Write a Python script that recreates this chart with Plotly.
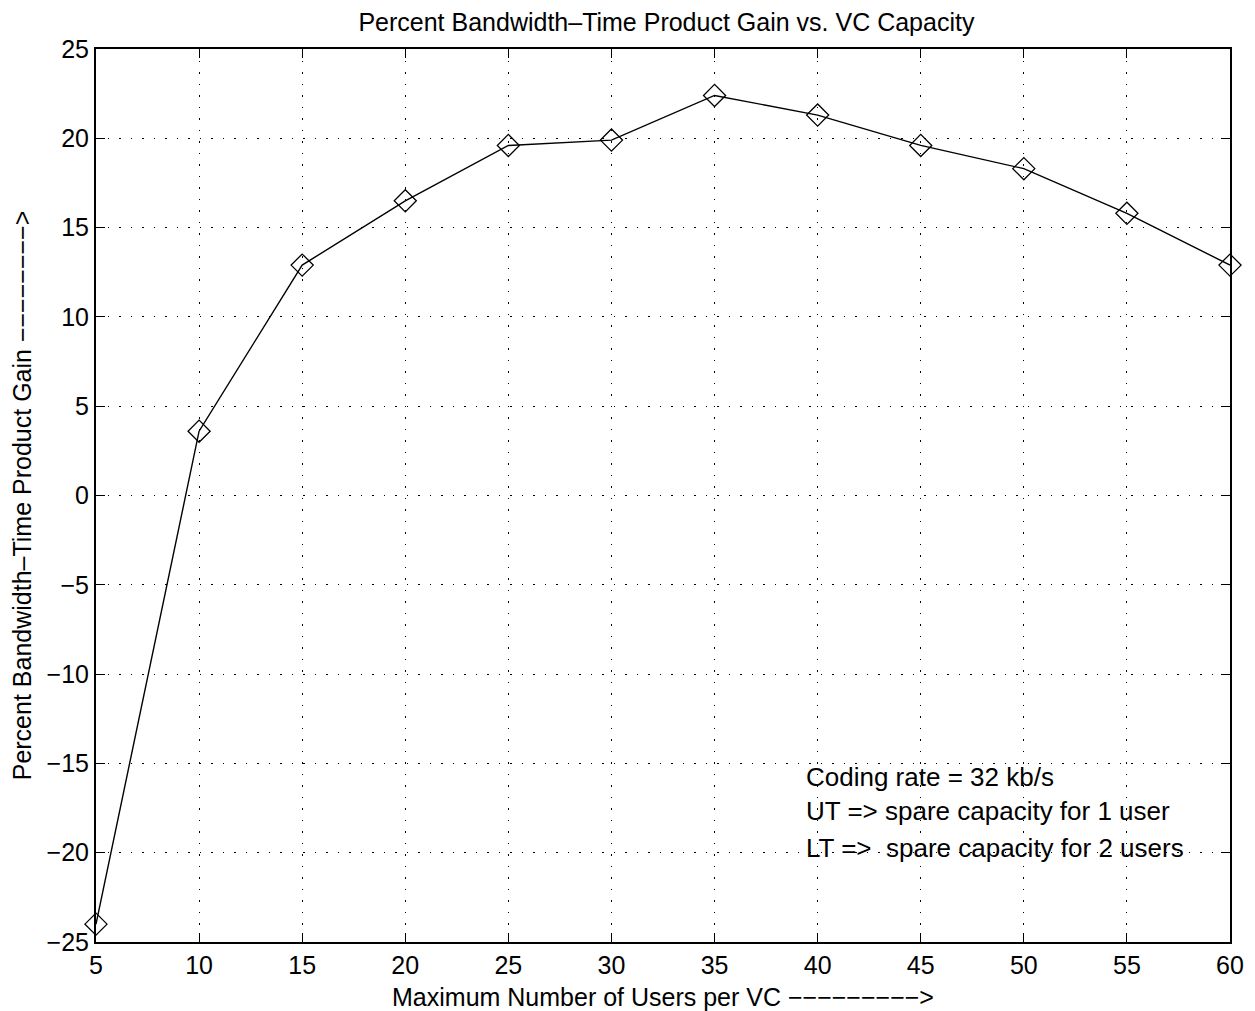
import plotly.graph_objects as go

users = [5, 10, 15, 20, 25, 30, 35, 40, 45, 50, 55, 60]
gain = [-24.0, 3.6, 12.9, 16.5, 19.6, 19.9, 22.4, 21.3, 19.6, 18.3, 15.8, 12.9]
x_ticks = list(range(5, 61, 5))
y_ticks = list(range(-25, 26, 5))
notes = ["Coding rate = 32 kb/s", "UT => spare capacity for 1 user", "LT =>  spare capacity for 2 users"]
note_y = [-15.75, -17.65, -19.75]

FONT = "Liberation Sans, Arial"
FS = 25

fig = go.Figure()
fig.add_trace(go.Scatter(
    x=users, y=gain, mode="lines+markers",
    line=dict(color="black", width=1.4),
    marker=dict(symbol="diamond-open", size=17, color="black", line=dict(width=1.3, color="black")),
    showlegend=False, cliponaxis=False,
))

for t, yv in zip(notes, note_y):
    fig.add_annotation(x=39.35, y=yv, xref="x", yref="y", text=t, showarrow=False,
                       xanchor="left", yanchor="middle",
                       font=dict(family=FONT, size=26, color="black"))

axis_common = dict(
    showline=True, linecolor="black", linewidth=2, mirror="allticks",
    ticks="inside", ticklen=9, tickcolor="black", tickwidth=1.3,
    showgrid=True, gridcolor="black", gridwidth=1, griddash="1.5px,10px",
    zeroline=False, automargin=False,
    tickfont=dict(family=FONT, size=FS, color="black"),
)

fig.update_xaxes(range=[5, 60], tickvals=x_ticks,
                 title=dict(text="Maximum Number of Users per VC −−−−−−−−−>", standoff=10,
                            font=dict(family=FONT, size=FS, color="black")),
                 **axis_common)
fig.update_yaxes(range=[-25, 25], tickvals=y_ticks,
                 title=dict(text="Percent Bandwidth–Time Product Gain −−−−−−−−>", standoff=8,
                            font=dict(family=FONT, size=FS, color="black")),
                 **axis_common)

fig.update_layout(
    width=1255, height=1011,
    margin=dict(l=96, r=25, t=49, b=69),
    paper_bgcolor="white", plot_bgcolor="white",
    title=dict(text="Percent Bandwidth–Time Product Gain vs. VC Capacity", x=0.531, xanchor="center",
               y=0.978, yanchor="middle",
               font=dict(family=FONT, size=FS, color="black")),
)

fig.write_html("out.html")
